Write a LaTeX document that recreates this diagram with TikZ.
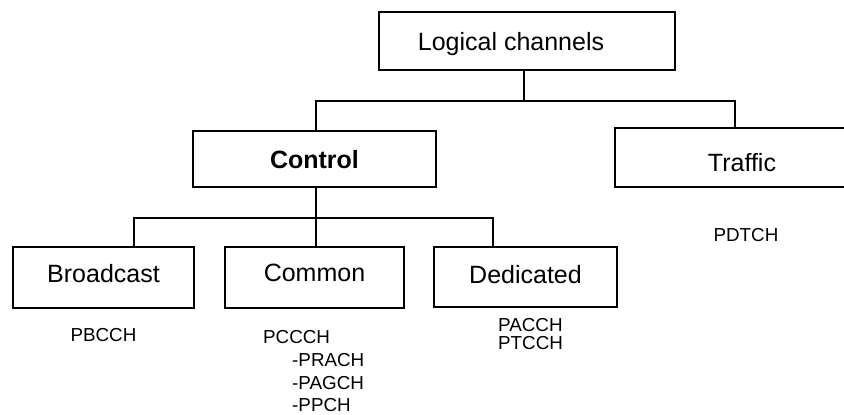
\documentclass[tikz,border=0pt]{standalone}
\usepackage{fontspec}
\setmainfont{Liberation Sans}
\begin{document}
\begin{tikzpicture}[x=1pt,y=-1pt,
  box/.style={draw, line width=2.6pt, inner sep=0pt,
    font=\fontsize{25}{30}\selectfont, text height=18pt, text depth=0pt},
  chan/.style={inner sep=0pt, font=\fontsize{18.8}{22}\selectfont},
  wire/.style={line width=2.6pt, line cap=rect, line join=miter}]
\useasboundingbox (0,0) rectangle (844,415);
\clip (0,0) rectangle (844,415);

% tree of boxes
\node[box, minimum width=296pt, minimum height=58pt] (logical) at (527,41) {Logical channels\hspace*{32pt}};
\node[box, minimum width=243pt, minimum height=56pt, font=\fontsize{25}{30}\selectfont\bfseries] (control) at (314.5,159) {Control};
\node[box, minimum width=254pt, minimum height=59pt, text height=28pt] (traffic) at (742,157.5) {Traffic};
\node[box, minimum width=181pt, minimum height=61pt, text depth=9pt] (broadcast) at (103.5,277.5) {Broadcast};
\node[box, minimum width=179pt, minimum height=61pt, text depth=10pt] (common) at (314.5,277.5) {Common};
\node[box, minimum width=183pt, minimum height=60pt, text depth=6pt] (dedicated) at (525.5,277) {Dedicated};

% junction points of the connectors
\coordinate (lj) at (524,101);
\coordinate (cj) at (316,101);
\coordinate (tj) at (735,101);
\coordinate (cb) at (316,218);
\coordinate (bb) at (134,218);
\coordinate (db) at (493,218);

\draw[wire] (logical.south -| lj) -- (lj);
\draw[wire] (control.north -| cj) -- (cj) -- (tj) -- (traffic.north -| tj);
\draw[wire] (control.south -| cb) -- (common.north -| cb);
\draw[wire] (broadcast.north -| bb) -- (bb) -- (db) -- (dedicated.north -| db);

% channel names
\node[chan] (pbcch) at (103.5,335) {PBCCH};
\node[chan, anchor=west] (pccch) at (263,337) {PCCCH};
\node[chan, anchor=west] (prach) at (292,360) {-PRACH};
\node[chan, anchor=west] (pagch) at (292,383) {-PAGCH};
\node[chan, anchor=west] (ppch) at (292,405) {-PPCH};
\node[chan, anchor=west] (pacch) at (498,325) {PACCH};
\node[chan, anchor=west] (ptcch) at (498,343) {PTCCH};
\node[chan] (pdtch) at (746,235) {PDTCH};
\end{tikzpicture}
\end{document}
